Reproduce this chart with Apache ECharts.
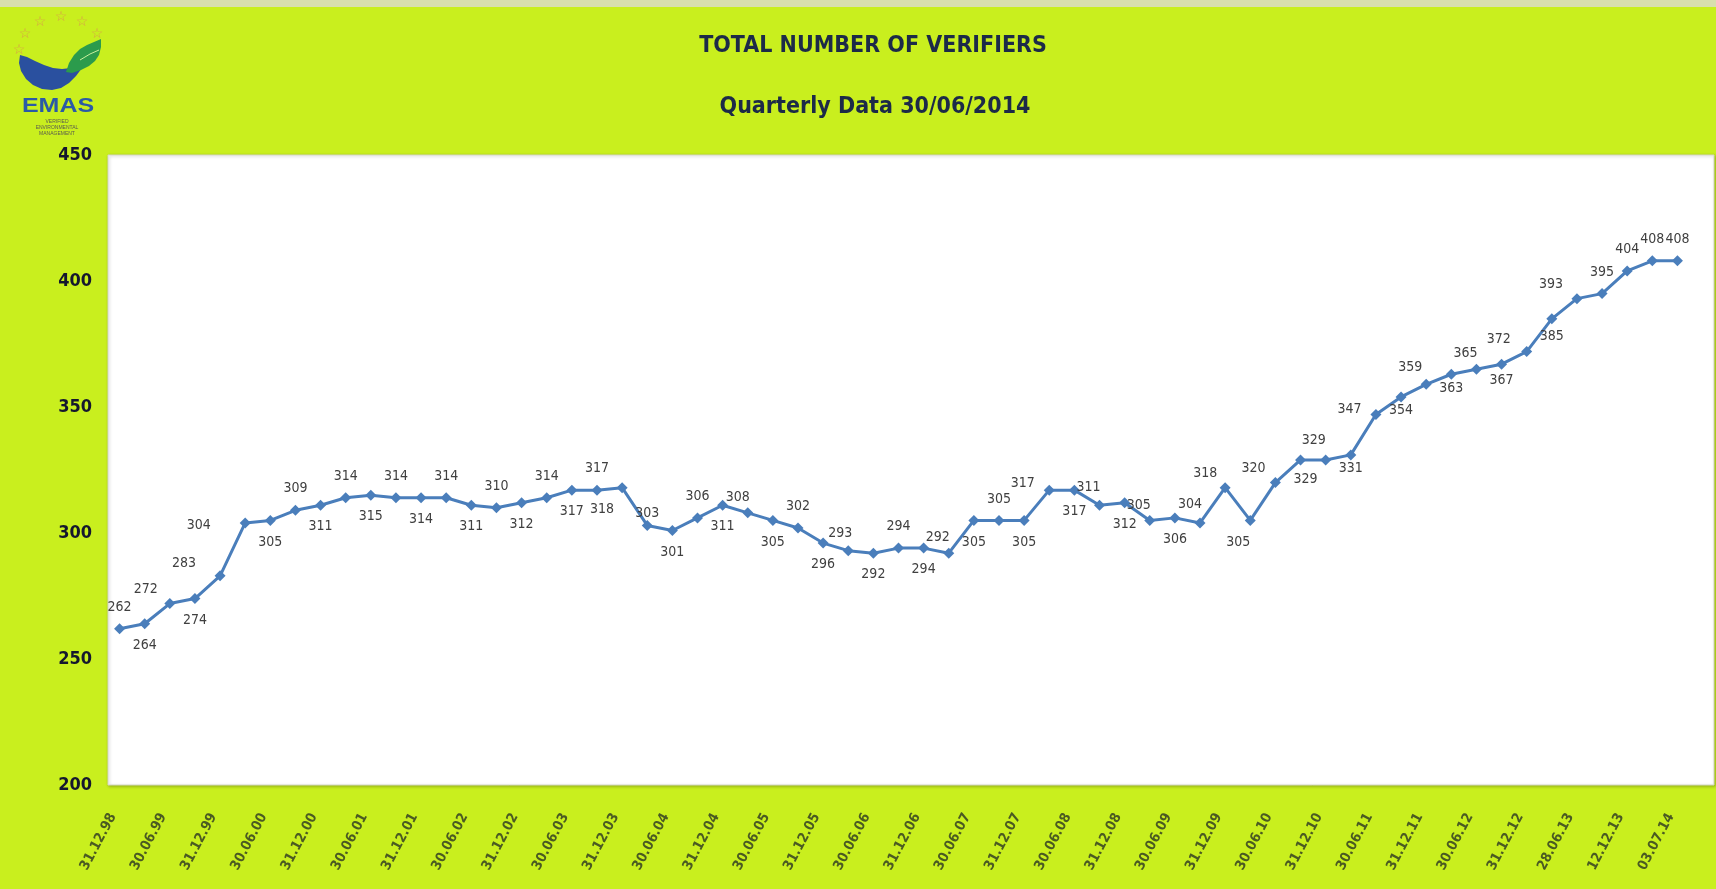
<!DOCTYPE html>
<html>
<head>
<meta charset="utf-8">
<title>Total number of verifiers</title>
<script src="https://cdn.jsdelivr.net/npm/echarts@6.0.0/dist/echarts.min.js"></script>
<style>
  html, body { margin: 0; padding: 0; background: #c9ef1e; }
  #chart-container { width: 1716px; height: 889px; }
</style>
</head>
<body>
<div id="chart-container"></div>
<script>
// quarter-end dates, only every second one is printed on the axis
const categories = [
  '31.12.98', '31.03.99', '30.06.99', '30.09.99', '31.12.99', '31.03.00', '30.06.00', '30.09.00',
  '31.12.00', '31.03.01', '30.06.01', '30.09.01', '31.12.01', '31.03.02', '30.06.02', '30.09.02',
  '31.12.02', '31.03.03', '30.06.03', '30.09.03', '31.12.03', '31.03.04', '30.06.04', '30.09.04',
  '31.12.04', '31.03.05', '30.06.05', '30.09.05', '31.12.05', '31.03.06', '30.06.06', '30.09.06',
  '31.12.06', '31.03.07', '30.06.07', '30.09.07', '31.12.07', '31.03.08', '30.06.08', '30.09.08',
  '31.12.08', '31.03.09', '30.06.09', '30.09.09', '31.12.09', '31.03.10', '30.06.10', '30.09.10',
  '31.12.10', '31.03.11', '30.06.11', '30.09.11', '31.12.11', '31.03.12', '30.06.12', '30.09.12',
  '31.12.12', '31.03.13', '28.06.13', '30.09.13', '12.12.13', '31.03.14', '03.07.14'
]

const verifiers = [
  262, 264, 272, 274, 283, 304, 305, 309, 311, 314, 315, 314, 314, 314, 311, 310,
  312, 314, 317, 317, 318, 303, 301, 306, 311, 308, 305, 302, 296, 293, 292, 294,
  294, 292, 305, 305, 305, 317, 317, 311, 312, 305, 306, 304, 318, 305, 320, 329,
  329, 331, 347, 354, 359, 363, 365, 367, 372, 385, 393, 395, 404, 408, 408
]

const yMin = 200
const yMax = 450
const yStep = 50

const narrow = "'Liberation Sans Narrow', 'DejaVu Sans Condensed', sans-serif"

// excel put the value labels alternately above / below the line
const labelSide = (i) => {
    if (i < 5) return i % 2 === 0 ? 'top' : 'bottom'
    if (i < 44) return i % 2 === 1 ? 'top' : 'bottom'
    if (i < 59) return i % 2 === 0 ? 'top' : 'bottom'
    return 'top'
}
// a few labels were dragged by hand
const nudges = {
    2: ['top', -24, 7], 4: ['top', -36, 9], 5: ['left', -20, 2], 20: ['bottom', -20, 0],
    21: ['top', 0, 9], 25: ['top', -10, 6], 29: ['top', -8, 4], 33: ['top', -11, 6],
    37: ['left', 0, -7], 39: ['top', -11, 4], 41: ['top', -11, 6], 43: ['top', -10, 3],
    44: ['top', -20, 7], 45: ['bottom', -12, 0], 46: ['top', -22, 7], 47: ['bottom', 5, -2],
    48: ['top', -12, 2], 49: ['bottom', 0, -8], 50: ['left', 0, -5], 51: ['bottom', 0, -8],
    52: ['top', -16, 5], 53: ['bottom', 0, -7], 54: ['top', -11, 6], 55: ['bottom', 0, -5],
    56: ['top', -28, 9], 57: ['bottom', 0, -4], 58: ['top', -26, 7]
}

const seriesData = verifiers.map((v, i) => {
    const n = nudges[i]
    return {
        value: v,
        label: {
            position: n ? n[0] : labelSide(i),
            offset: n ? [n[1], n[2]] : [0, 0]
        }
    }
})

const star = (x, y) => ({
    type: 'text', x: x, y: y, silent: true,
    style: { text: '☆', fill: '#d8a048', font: 'bold 14px DejaVu Sans', align: 'center', verticalAlign: 'middle' }
})

let myChart = echarts.init(document.getElementById('chart-container'))
const option = {
    backgroundColor: '#c9ef1e',
    animation: false,
    title: [
        {
            text: 'TOTAL NUMBER OF VERIFIERS',
            left: 868, top: 30, textAlign: 'center',
            textStyle: { fontFamily: narrow, fontWeight: 'bold', fontSize: 23, color: '#1c2a48' }
        },
        {
            text: 'Quarterly Data 30/06/2014',
            left: 870, top: 91, textAlign: 'center',
            textStyle: { fontFamily: narrow, fontWeight: 'bold', fontSize: 23, color: '#1c2a48' }
        }
    ],
    graphic: [
        { type: 'rect', z: -10, silent: true, shape: { x: 0, y: 0, width: 1716, height: 7 }, style: { fill: '#d8dfae' } },
        {
            type: 'rect', z: -5, silent: true,
            shape: { x: 108, y: 155, width: 1606, height: 630 },
            style: { fill: '#ffffff', stroke: '#d6d8c4', lineWidth: 1, shadowBlur: 3, shadowColor: 'rgba(0,0,0,0.25)', shadowOffsetX: 1, shadowOffsetY: 1 }
        },
        // EMAS logo
        star(19, 50), star(25, 34), star(40, 22), star(61, 17), star(82, 22), star(97, 34),
        {
            type: 'polygon', silent: true,
            shape: {
                points: [[20, 55], [19, 63], [21, 71], [26, 79], [33, 85], [42, 89], [52, 90], [61, 88],
                    [69, 83], [76, 76], [82, 68], [86, 60], [79, 65], [71, 68], [62, 69], [53, 68],
                    [44, 65], [35, 61], [27, 57]]
            },
            style: { fill: '#2a509f' }
        },
        {
            type: 'polygon', silent: true,
            shape: {
                points: [[66, 72], [69, 63], [74, 55], [80, 49], [87, 45], [94, 42], [101, 39], [101, 47],
                    [99, 55], [95, 61], [89, 66], [81, 70], [72, 73]]
            },
            style: { fill: '#2b9b4c' }
        },
        {
            type: 'polyline', silent: true,
            shape: { points: [[80, 60], [90, 54], [99, 50]] },
            style: { stroke: '#c9ef9e', lineWidth: 1, fill: null }
        },
        {
            type: 'text', x: 58, y: 106, scaleX: 1.25, silent: true,
            style: { text: 'EMAS', fill: '#2b5aa6', font: 'bold 20px Liberation Sans', align: 'center', verticalAlign: 'middle' }
        },
        {
            type: 'text', x: 57, y: 128, silent: true,
            style: { text: 'VERIFIED\nENVIRONMENTAL\nMANAGEMENT', fill: '#5a5a50', font: '5px Liberation Sans', lineHeight: 6, align: 'center', verticalAlign: 'middle' }
        }
    ],
    grid: { left: 107, right: 26, top: 155, bottom: 104 },
    xAxis: {
        type: 'category',
        data: categories,
        boundaryGap: true,
        axisLine: { show: false },
        axisTick: { show: false },
        axisLabel: {
            interval: 1,
            rotate: 62,
            margin: 17,
            padding: [0, 14, 26, 0],
            fontFamily: narrow,
            fontWeight: 'bold',
            fontSize: 14,
            color: '#4a5a22'
        }
    },
    yAxis: {
        type: 'value',
        min: yMin,
        max: yMax,
        interval: yStep,
        splitLine: { show: false },
        axisLine: { show: false },
        axisTick: { show: false },
        axisLabel: { margin: 15, fontFamily: narrow, fontWeight: 'bold', fontSize: 18, color: '#15172e' }
    },
    series: [
        {
            name: 'verifiers',
            type: 'line',
            data: seriesData,
            symbol: 'diamond',
            symbolSize: 11,
            lineStyle: { color: '#4a7ebb', width: 3 },
            itemStyle: { color: '#4a7ebb' },
            label: {
                show: true,
                distance: 9,
                fontFamily: narrow,
                fontSize: 14,
                color: '#404040'
            }
        }
    ]
}

option && myChart.setOption(option)
</script>
</body>
</html>
